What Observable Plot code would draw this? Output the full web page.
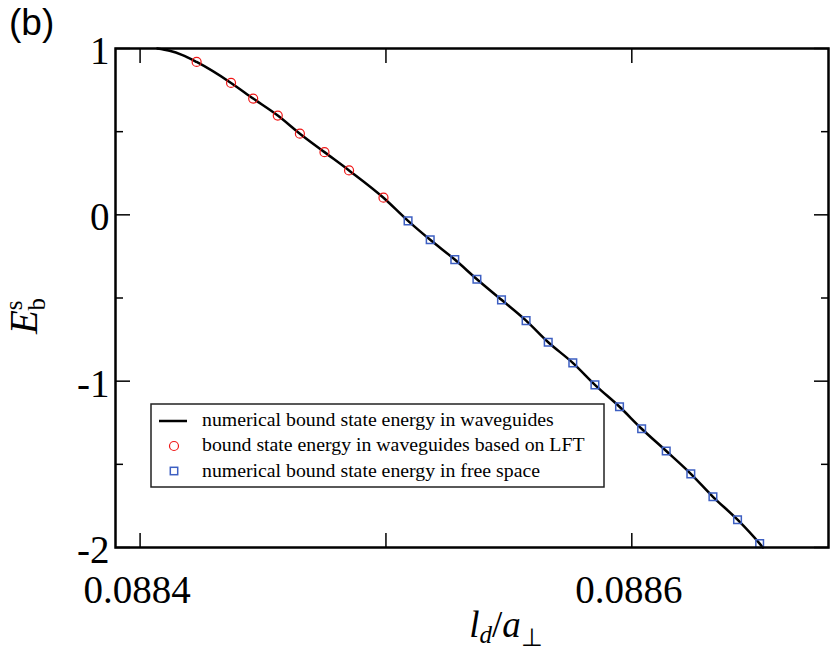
<!DOCTYPE html>
<html><head><meta charset="utf-8">
<script src="https://cdn.jsdelivr.net/npm/d3@7"></script>
<script src="https://cdn.jsdelivr.net/npm/@observablehq/plot@0.6"></script>
<style>
body{margin:0;background:#fff;}
#chart{position:relative;width:830px;height:665px;}
</style>
</head><body><div id="chart"></div>
<script>
// ---- data ----
const xMajorTicks = [0.0884, 0.0885, 0.0886];
const xTickLabels = [0.0884, 0.0886];
const yMajorTicks = [1, 0, -1, -2];
const yMinorTicks = [0.5, -0.5, -1.5];

// numerical bound state energy in waveguides (solid curve)
const curveX = [0.088407, 0.088412, 0.088417, 0.088423, 0.088437, 0.088446, 0.088456, 0.088465, 0.088475, 0.088485, 0.088499,
  0.088509, 0.088518, 0.088528, 0.088537, 0.088547, 0.088557, 0.088566, 0.088576, 0.088585, 0.088595, 0.088604, 0.088614,
  0.088624, 0.088633, 0.088643, 0.088652, 0.0886533];
const curveE = [1.0, 0.986, 0.962, 0.919, 0.793, 0.699, 0.597, 0.488, 0.377, 0.267, 0.103,
  -0.036, -0.150, -0.269, -0.387, -0.511, -0.636, -0.766, -0.890, -1.022, -1.154, -1.286, -1.420,
  -1.557, -1.695, -1.833, -1.977, -2.0];

// bound state energy in waveguides based on LFT (red circles)
const lftX = [0.088423, 0.088437, 0.088446, 0.088456, 0.088465, 0.088475, 0.088485, 0.088499];
const lftE = [0.919, 0.793, 0.699, 0.597, 0.488, 0.377, 0.267, 0.103];

// numerical bound state energy in free space (blue squares)
const freeX = [0.088509, 0.088518, 0.088528, 0.088537, 0.088547, 0.088557, 0.088566, 0.088576,
  0.088585, 0.088595, 0.088604, 0.088614, 0.088624, 0.088633, 0.088643, 0.088652];
const freeE = [-0.036, -0.150, -0.269, -0.387, -0.511, -0.636, -0.766, -0.890,
  -1.022, -1.154, -1.286, -1.420, -1.557, -1.695, -1.833, -1.977];

const legendLabels = [
  "numerical bound state energy in waveguides",
  "bound state energy in waveguides based on LFT",
  "numerical bound state energy in free space"
];

const curve = curveX.map((x, i) => ({x, y: curveE[i]}));
const lft = lftX.map((x, i) => ({x, y: lftE[i]}));
const free = freeX.map((x, i) => ({x, y: freeE[i]}));

const RED = "#f01818", BLUE = "#3d5fc2";
const serif = "'Liberation Serif', 'Times New Roman', serif";

const chart = Plot.plot({
  width: 830, height: 665,
  marginLeft: 115, marginRight: 2, marginTop: 48, marginBottom: 118,
  style: {background: "#fff", overflow: "visible", color: "#000"},
  x: {domain: [0.08839, 0.08868]},
  y: {domain: [-2, 1]},
  marks: [
    // inward ticks on all four sides
    Plot.axisX(xMajorTicks, {anchor: "bottom", tickSize: -14, tickFormat: () => "", label: null, strokeWidth: 1.5}),
    Plot.axisX(xMajorTicks, {anchor: "top", tickSize: -14, tickFormat: () => "", label: null, strokeWidth: 1.5}),
    Plot.axisY(yMajorTicks, {anchor: "left", tickSize: -15, tickFormat: () => "", label: null, strokeWidth: 1.5}),
    Plot.axisY(yMinorTicks, {anchor: "left", tickSize: -8, tickFormat: () => "", label: null, strokeWidth: 1.5}),
    Plot.axisY(yMajorTicks, {anchor: "right", tickSize: -15, tickFormat: () => "", label: null, strokeWidth: 1.5}),
    Plot.axisY(yMinorTicks, {anchor: "right", tickSize: -8, tickFormat: () => "", label: null, strokeWidth: 1.5}),
    // tick labels
    Plot.axisX(xTickLabels, {anchor: "bottom", tickSize: 0, tickPadding: 28, fontSize: 39, dx: -3, tickFormat: d => d.toFixed(4), label: null}),
    Plot.axisY(yMajorTicks, {anchor: "left", tickSize: 0, tickPadding: 6, fontSize: 39, dy: 3, tickFormat: d => String(d), label: null}),
    // data
    Plot.line(curve, {x: "x", y: "y", stroke: "#000", strokeWidth: 2.5, curve: "monotone-x"}),
    Plot.dot(lft, {x: "x", y: "y", r: 4.5, stroke: RED, strokeWidth: 1.2, fill: "none"}),
    Plot.dot(free, {x: "x", y: "y", symbol: "square", r: 4.3, stroke: BLUE, strokeWidth: 1.5, fill: "none"}),
    Plot.frame({stroke: "#000", strokeWidth: 2.5})
  ]
});
document.getElementById("chart").appendChild(chart);

const svg = d3.select(chart);
// force the serif face on every text the library drew
svg.selectAll("text").style("font-family", serif).style("font-variant", "normal");

// ---- annotations: panel label, axis titles, legend ----
svg.append("text")
  .attr("x", 9).attr("y", 35)
  .attr("text-anchor", "start")
  .style("font-family", "'Liberation Sans', Arial, sans-serif")
  .attr("font-size", 37).attr("fill", "#000")
  .text("(b)");

// x-axis title: l_d / a_⊥
const xt = svg.append("text")
  .attr("x", 506).attr("y", 637)
  .attr("text-anchor", "middle")
  .style("font-family", serif)
  .attr("font-size", 37).attr("fill", "#000");
xt.append("tspan").attr("font-style", "italic").text("l");
xt.append("tspan").attr("font-style", "italic").attr("font-size", 25).attr("dy", 6).text("d");
xt.append("tspan").attr("dy", -6).text("/");
xt.append("tspan").attr("font-style", "italic").text("a");
xt.append("tspan").attr("font-size", 25).attr("dy", 9).text("\u22A5");

// y-axis title: E_b^s (rotated)
const yt = svg.append("text")
  .attr("transform", "translate(37,316) rotate(-90)")
  .attr("text-anchor", "middle")
  .style("font-family", serif)
  .attr("font-size", 39).attr("fill", "#000");
yt.append("tspan").attr("font-style", "italic").text("E");
yt.append("tspan").attr("font-size", 25).attr("dy", -15).text("s");
yt.append("tspan").attr("font-size", 25).attr("dx", -10).attr("dy", 23).text("b");

// legend box
const lg = svg.append("g");
lg.append("rect")
  .attr("x", 151).attr("y", 404).attr("width", 453).attr("height", 83)
  .attr("fill", "#fff").attr("stroke", "#222").attr("stroke-width", 1.5);
lg.append("line")
  .attr("x1", 159).attr("x2", 187).attr("y1", 421).attr("y2", 421)
  .attr("stroke", "#000").attr("stroke-width", 2.5);
lg.append("circle")
  .attr("cx", 174).attr("cy", 446).attr("r", 4.5)
  .attr("fill", "none").attr("stroke", RED).attr("stroke-width", 1.2);
lg.append("rect")
  .attr("x", 170.3).attr("y", 467.3).attr("width", 7.4).attr("height", 7.4)
  .attr("fill", "none").attr("stroke", BLUE).attr("stroke-width", 1.5);
legendLabels.forEach((t, i) => {
  lg.append("text")
    .attr("x", 202).attr("y", 426 + i * 25.3)
    .attr("text-anchor", "start")
    .style("font-family", serif)
    .attr("font-size", 19.8).attr("fill", "#000")
    .text(t);
});
</script>
</body></html>
